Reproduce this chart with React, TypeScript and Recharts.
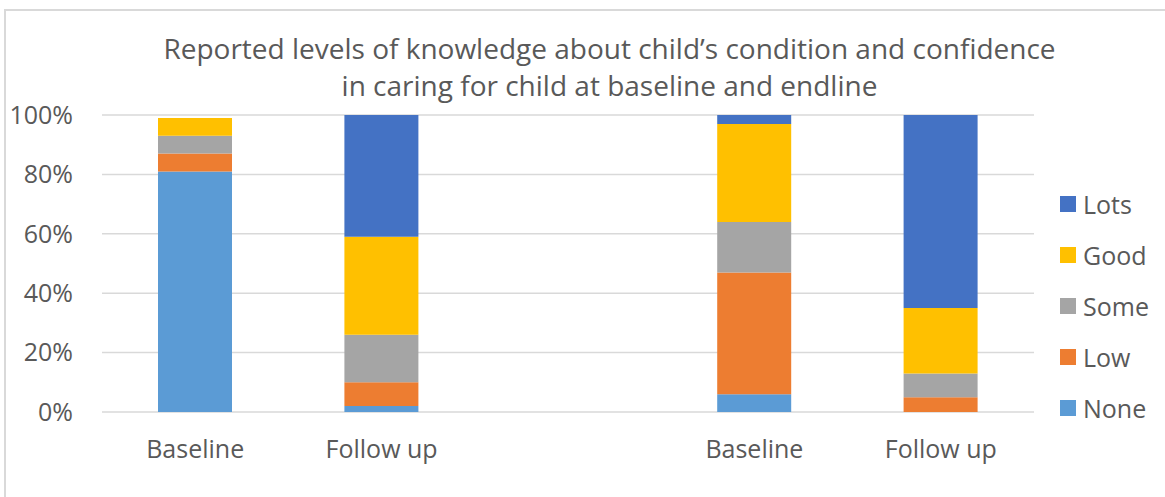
import React from 'react';
import { BarChart, Bar, XAxis, YAxis, CartesianGrid } from 'recharts';

// categories (middle one is an empty spacer between the two groups)
const categories = ['Baseline', 'Follow up', '', 'Baseline', 'Follow up'];

// stacked shares, in percent
const none = [81, 2, null, 6, 0];
const low = [6, 8, null, 41, 5];
const some = [6, 16, null, 17, 8];
const good = [6, 33, null, 33, 22];
const lots = [0, 41, null, 3, 65];

const yTicks = [0, 20, 40, 60, 80, 100];

const series = [
  { key: 'None', values: none, color: '#5B9BD5' },
  { key: 'Low', values: low, color: '#ED7D31' },
  { key: 'Some', values: some, color: '#A5A5A5' },
  { key: 'Good', values: good, color: '#FFC000' },
  { key: 'Lots', values: lots, color: '#4472C4' },
];

const data = categories.map((name, i) => {
  const row: Record<string, any> = { name };
  series.forEach((s) => {
    row[s.key] = s.values[i];
  });
  return row;
});

const font = '"Open Sans", sans-serif';
const textColor = '#595959';

const App: React.FC = () => {
  return (
    <div style={{ position: 'absolute', left: 0, top: 0, width: 1165, height: 497, background: '#fff', fontFamily: font, overflow: 'hidden' }}>
      <div
        style={{
          position: 'absolute',
          left: 4,
          top: 9,
          right: -10,
          bottom: -10,
          borderLeft: '2px solid #d9d9d9',
          borderTop: '2px solid #d9d9d9',
        }}
      />
      <div
        style={{
          position: 'absolute',
          left: 0,
          top: 30,
          width: 1219,
          textAlign: 'center',
          fontSize: 28,
          lineHeight: '37px',
          color: textColor,
        }}
      >
        Reported levels of knowledge about child’s condition and confidence
        <br />
        in caring for child at baseline and endline
      </div>
      <div style={{ position: 'absolute', left: 0, top: 0 }}>
        <BarChart width={1165} height={497} data={data} margin={{ top: 115, right: 131, bottom: 55, left: 42 }}>
          <CartesianGrid vertical={false} stroke="#d9d9d9" strokeWidth={1.5} />
          <XAxis
            dataKey="name"
            height={30}
            axisLine={false}
            tickLine={false}
            tickSize={0}
            tickMargin={28}
            tick={{ fill: textColor, fontSize: 25, fontFamily: font }}
            interval={0}
          />
          <YAxis
            width={60}
            domain={[0, 100]}
            ticks={yTicks}
            tickFormatter={(v) => `${v}%`}
            axisLine={false}
            tickLine={false}
            tickSize={0}
            tickMargin={29}
            tick={{ fill: textColor, fontSize: 25, fontFamily: font }}
          />
          {series.map((s) => (
            <Bar key={s.key} dataKey={s.key} stackId="a" fill={s.color} barSize={74} isAnimationActive={false} />
          ))}
        </BarChart>
      </div>
      <div style={{ position: 'absolute', left: 1060, top: 178 }}>
        {[...series].reverse().map((s) => (
          <div key={s.key} style={{ display: 'flex', alignItems: 'center', height: 51.2, fontSize: 25, color: textColor }}>
            <span style={{ width: 16, height: 16, background: s.color, marginRight: 7, display: 'inline-block' }} />
            {s.key}
          </div>
        ))}
      </div>
    </div>
  );
};

export default App;
